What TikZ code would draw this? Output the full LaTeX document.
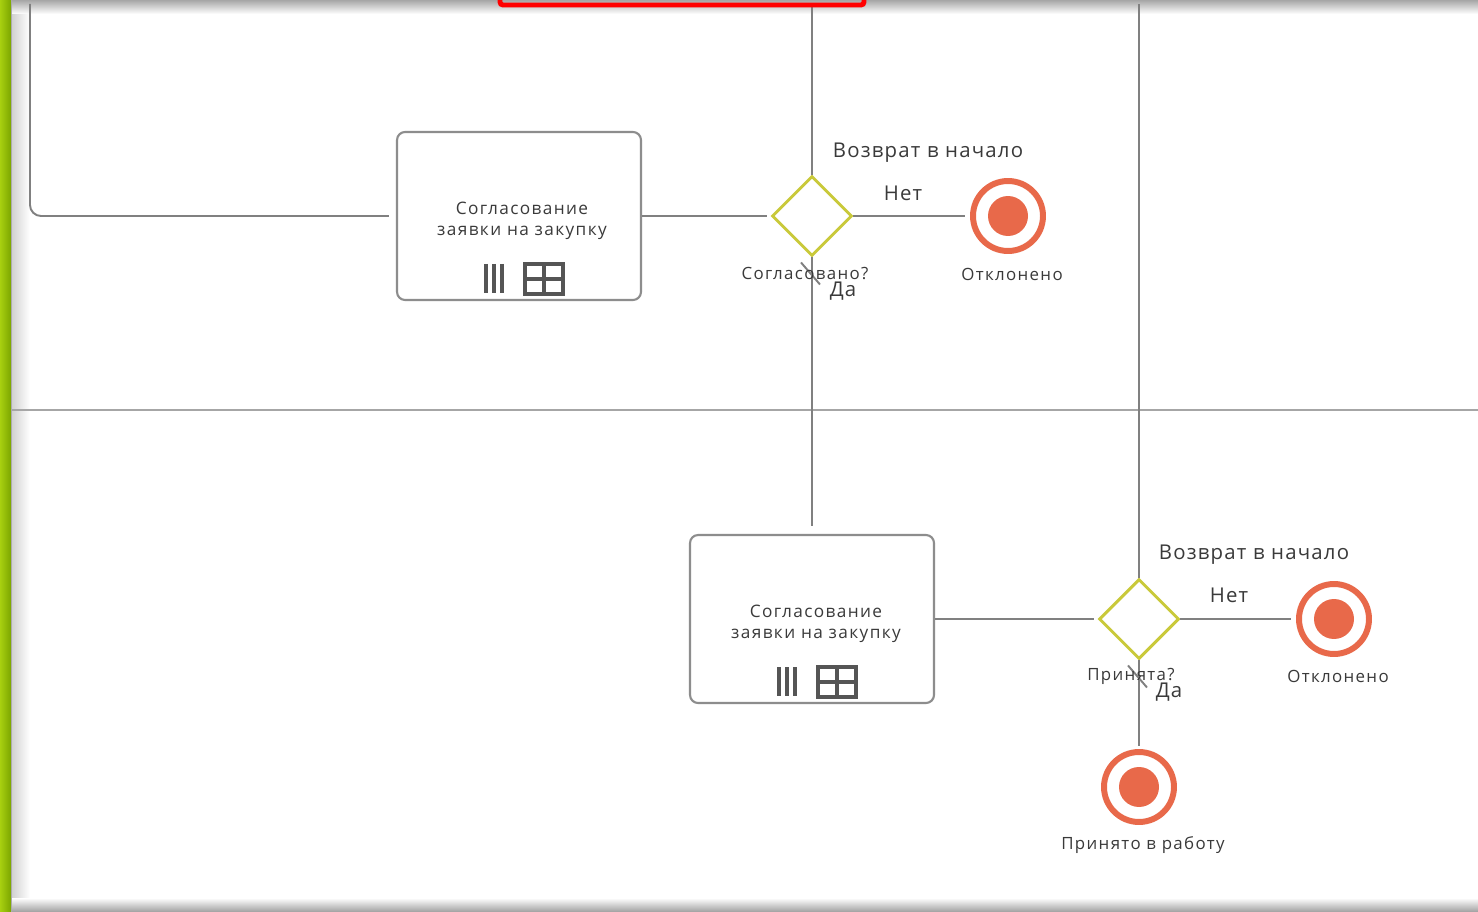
\documentclass[tikz,border=0pt]{standalone}
\usepackage{fontspec}
\setmainfont{Open Sans}
\newfontfamily\lblfont[LetterSpace=8]{Open Sans}
\newfontfamily\bigfont[LetterSpace=6]{Open Sans}
\usetikzlibrary{shapes.geometric,positioning}
\definecolor{flowgray}{HTML}{808080}
\definecolor{gateolive}{HTML}{C9C93A}
\definecolor{endred}{HTML}{E8694A}
\definecolor{markgray}{HTML}{555555}
\definecolor{labelgray}{HTML}{3A3A3A}
\definecolor{barlight}{HTML}{A8D010}
\definecolor{bardark}{HTML}{7CA600}
\tikzset{
  task/.style={draw=flowgray!90, line width=1.2pt, rounded corners=0.16cm, fill=white,
    minimum width=4.88cm, minimum height=3.36cm, inner sep=0pt, align=center,
    text=labelgray},
  tasktext/.style={font=\lblfont\fontsize{9.8}{11.9}\selectfont, text=labelgray,
    inner sep=0pt, align=center},
  gate/.style={diamond, draw=gateolive, line width=1.7pt, minimum width=1.6cm,
    minimum height=1.6cm, inner sep=0pt},
  endev/.style={circle, draw=endred, line width=3.4pt, minimum size=1.4cm, inner sep=0pt},
  flow/.style={draw=flowgray, line width=1.1pt},
  small/.style={font=\lblfont\fontsize{9.6}{11}\selectfont, text=labelgray, inner sep=0pt},
  big/.style={font=\bigfont\fontsize{11.6}{13}\selectfont, text=labelgray, inner sep=0pt},
  marker/.style={draw=markgray, line width=2pt},
  tick/.style={draw=flowgray, line width=1.1pt}
}
\begin{document}
\begin{tikzpicture}[x=0.02cm, y=-0.02cm]
		\useasboundingbox (0,0) rectangle (1478,912);
		\clip (0,0) rectangle (1478,912);
		\fill [white] (0,0) rectangle (1478,912);

		\shade [left color=gray!35, right color=white] (12,0) rectangle (30,912);
		\shade [top color=gray!70, bottom color=white] (0,0) rectangle (1478,14);
		\shade [top color=white, bottom color=gray!75] (0,898) rectangle (1478,912);
		\shade [left color=barlight, right color=bardark] (0,0) rectangle (11,912);
		\draw [gray!65, line width=0.6pt] (11.5,0) -- (11.5,912);

		\draw [gray!70, line width=1.3pt] (12,410) -- (1478,410);

		\coordinate (in1) at (30,4);
		\coordinate (in2) at (812,4);
		\coordinate (in3) at (1139,4);

		\node [task] (t1) at (519,216) {};
		\node [gate] (g1) at (812,216) {};
		\node [endev] (e1) at (1008,216) {};
		\node [task] (t2) at (812,619) {};
		\node [gate] (g2) at (1139,619) {};
		\node [endev] (e2) at (1334,619) {};
		\node [endev] (e3) at (1139,787) {};

		\node [tasktext] (t1txt) at (522,221) {Согласование\\заявки на закупку};
		\node [tasktext] (t2txt) at (816,624) {Согласование\\заявки на закупку};

		\foreach \e in {e1,e2,e3}
			\fill [endred] (\e) circle [radius=0.4cm];

		\foreach \t in {t1,t2} {
			\draw [marker] ([shift={(-33,48)}]\t.center) -- ++(0,29);
			\draw [marker] ([shift={(-25,48)}]\t.center) -- ++(0,29);
			\draw [marker] ([shift={(-17,48)}]\t.center) -- ++(0,29);
			\draw [marker] ([shift={(6,48)}]\t.center) rectangle ([shift={(44,78)}]\t.center);
			\draw [marker] ([shift={(25,48)}]\t.center) -- ([shift={(25,78)}]\t.center);
			\draw [marker] ([shift={(6,63)}]\t.center) -- ([shift={(44,63)}]\t.center);
		}

		\draw [flow, rounded corners=0.22cm, shorten >=0.14cm] (in1) |- (t1.west);
		\draw [flow, shorten >=0.08cm] (t1.east) -- (g1.west);
		\draw [flow] (in2) -- (g1.north);
		\draw [flow, shorten >=0.1cm] (g1.east) -- (e1.west);
		\draw [flow, shorten >=0.16cm] (g1.south) -- (t2.north);
		\draw [flow, shorten >=0.08cm] (t2.east) -- (g2.west);
		\draw [flow] (in3) -- (g2.north);
		\draw [flow, shorten >=0.1cm] (g2.east) -- (e2.west);
		\draw [flow, shorten >=0.06cm] (g2.south) -- (e3.north);

		\draw [tick] ([shift={(-11,5)}]g1.south) -- ++(19,22);
		\draw [tick] ([shift={(-11,5)}]g2.south) -- ++(19,22);

		\node [big] (r1) at (928,153) {Возврат в начало};
		\node [big] (n1) at (903,193) {Нет};
		\node [small] (q1) at (805,274) {Согласовано?};
		\node [big] (y1) at (843,291) {Да};
		\node [small] (x1) at (1012,274) {Отклонено};
		\node [big] (r2) at (1254,555) {Возврат в начало};
		\node [big] (n2) at (1229,595) {Нет};
		\node [small] (q2) at (1131,676) {Принята?};
		\node [big] (y2) at (1169,692) {Да};
		\node [small] (x2) at (1338,676) {Отклонено};
		\node [small] (a3) at (1143,845) {Принято в работу};

		\draw [red, line width=2.8pt, rounded corners=0.06cm] (500,-20) rectangle (864,5);
\end{tikzpicture}
\end{document}
